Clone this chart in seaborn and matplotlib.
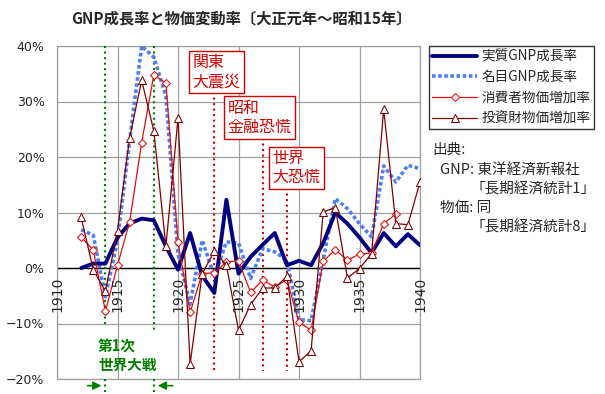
# GNP成長率と物価変動率 (大正元年〜昭和15年)

import numpy as np
import pandas as pd
import matplotlib
matplotlib.use("Agg")
import matplotlib.pyplot as plt
import seaborn as sns

years = list(range(1912, 1941))

real_gnp = [0.0, 0.8, 0.8, 5.5, 8.0, 8.9, 8.6, 3.9, -0.3, 6.3,
            -1.4, -4.5, 12.3, -1.0, 2.0, 4.2, 6.3, 0.5, 1.3, 0.5,
            4.5, 10.0, 8.0, 5.5, 2.7, 6.3, 3.9, 6.1, 4.1]
nominal_gnp = [6.9, 5.9, -5.2, 5.0, 23.0, 40.0, 38.0, 31.0, 2.5, -6.5,
               5.0, -1.5, 4.7, 4.5, -1.9, 3.5, 2.9, 1.4, -9.3, -9.5,
               1.5, 12.5, 10.7, 8.0, 5.6, 18.4, 15.5, 18.5, 17.9]
consumer = [5.6, 3.2, -7.8, 0.5, 8.3, 22.6, 34.8, 33.3, 4.7, -8.0,
            -1.0, -0.9, 1.1, 1.3, -4.4, -2.2, -3.4, -2.1, -9.8, -11.2,
            1.2, 3.3, 1.4, 2.5, 2.7, 8.0, 9.7, np.nan, np.nan]
investment = [9.1, -0.3, -4.2, 6.7, 23.5, 33.8, 24.7, 3.9, 27.0, -17.3,
              -1.0, 3.0, 0.5, -11.2, -6.6, -3.6, -3.6, -1.5, -16.9, -14.9,
              10.1, 10.9, -1.8, -0.1, 2.6, 28.6, 8.0, 7.8, 15.5]

labels = ["実質GNP成長率", "名目GNP成長率", "消費者物価増加率", "投資財物価増加率"]

df = pd.DataFrame({"year": years, "real": real_gnp, "nominal": nominal_gnp,
                   "consumer": consumer, "investment": investment})

sns.set_style("white")
plt.rcParams["font.family"] = ["Noto Sans CJK JP", "DejaVu Sans"]

fig = plt.figure(figsize=(6.05, 3.94), dpi=100)
ax = fig.add_axes([57 / 605, 1 - 379 / 394, 363 / 605, 333 / 394])

# grid
for v in range(-20, 41, 10):
    ax.axhline(v, color="#a0a0a0", lw=0.9, zorder=0)
for y in range(1910, 1941, 5):
    ax.axvline(y, color="#a0a0a0", lw=0.9, zorder=0)
ax.axhline(0, color="black", lw=1.0, zorder=1)

sns.lineplot(data=df, x="year", y="real", ax=ax, color="#000080", lw=2.8,
             label=labels[0], zorder=5)
sns.lineplot(data=df, x="year", y="nominal", ax=ax, color="#4f7ff0", lw=2.6,
             linestyle=(0, (1, 0.7)), label=labels[1], zorder=4)
sns.lineplot(data=df, x="year", y="consumer", ax=ax, color="#e01010", lw=0.9,
             marker="D", markersize=4, markerfacecolor="white",
             markeredgecolor="#e01010", label=labels[2], zorder=6)
sns.lineplot(data=df, x="year", y="investment", ax=ax, color="#800000", lw=0.9,
             marker="^", markersize=5.5, markerfacecolor="white",
             markeredgecolor="#800000", label=labels[3], zorder=6)

ax.set_xlim(1910, 1940)
ax.set_ylim(-20, 40)
ax.set_xlabel("")
ax.set_ylabel("")
for s in ax.spines.values():
    s.set_color("#a0a0a0")
    s.set_linewidth(0.9)

ax.set_yticks(range(-20, 41, 10))
ax.set_yticklabels([f"{v}%".replace("-", "\u2212") for v in range(-20, 41, 10)],
                   fontsize=9, family="DejaVu Sans")
ax.tick_params(axis="y", length=0, pad=9)
ax.set_xticks([])
for y in range(1910, 1941, 5):
    ax.text(y, -1.6, str(y), rotation=90, ha="center", va="top",
            fontsize=10, family="DejaVu Sans", zorder=7)

# WWI
green = "#008000"
for y, top_end in [(1914, -10.7), (1918, -11.5)]:
    ax.plot([y, y], [40, top_end], color=green, lw=1.5, ls=":", clip_on=False, zorder=3)
    ax.plot([y, y], [-20, -22.3], color=green, lw=1.5, ls=":", clip_on=False, zorder=3)
ax.text(1913.4, -12.5, "第1次\n世界大戦", color=green, fontsize=10.5,
        fontweight="bold", va="top", ha="left", linespacing=1.3)
ax.annotate("", xy=(1913.9, -21.2), xytext=(1912.3, -21.2),
            arrowprops=dict(arrowstyle="-|>", color=green, lw=1.2, mutation_scale=12),
            annotation_clip=False)
ax.annotate("", xy=(1918.1, -21.2), xytext=(1919.8, -21.2),
            arrowprops=dict(arrowstyle="-|>", color=green, lw=1.2, mutation_scale=12),
            annotation_clip=False)

# events
red = "#d00000"
events = [(1923, 31.8, 1921.2, 35.3, "関東\n大震災"),
          (1927, 23.4, 1924.1, 27.1, "昭和\n金融恐慌"),
          (1929, 14.4, 1927.8, 18.0, "世界\n大恐慌")]
for yr, top, tx, ty, txt in events:
    ax.plot([yr, yr], [top, -18.5], color=red, lw=1.5, ls=":", zorder=3)
    ax.text(tx, ty, txt, color=red, fontsize=11.5, ha="left", va="center",
            linespacing=1.15, zorder=8,
            bbox=dict(boxstyle="square,pad=0.2", fc="white", ec=red, lw=1))

ax.legend().remove()
handles, labs = ax.get_legend_handles_labels()
leg = fig.legend(handles, labs, loc="upper left", bbox_to_anchor=(429 / 605, 1 - 46 / 394),
                 fontsize=9.8, frameon=True, fancybox=False, handlelength=3.3,
                 handletextpad=0.3, labelspacing=0.5, borderpad=0.25, borderaxespad=0)
leg.get_frame().set_edgecolor("black")
leg.get_frame().set_linewidth(1)

src = [(432, 150, "出典:"), (440, 170, "GNP: 東洋経済新報社"), (470, 189, "「長期経済統計1」"),
       (440, 208, "物価: 同"), (470, 227, "「長期経済統計8」")]
for x, y, t in src:
    fig.text(x / 605, 1 - y / 394, t, fontsize=10.5, ha="left", va="center")

fig.text(241 / 605, 1 - 18 / 394, "GNP成長率と物価変動率〔大正元年〜昭和15年〕",
         fontsize=11, fontweight="bold", ha="center", va="center")

fig.savefig("out.png", dpi=100)
